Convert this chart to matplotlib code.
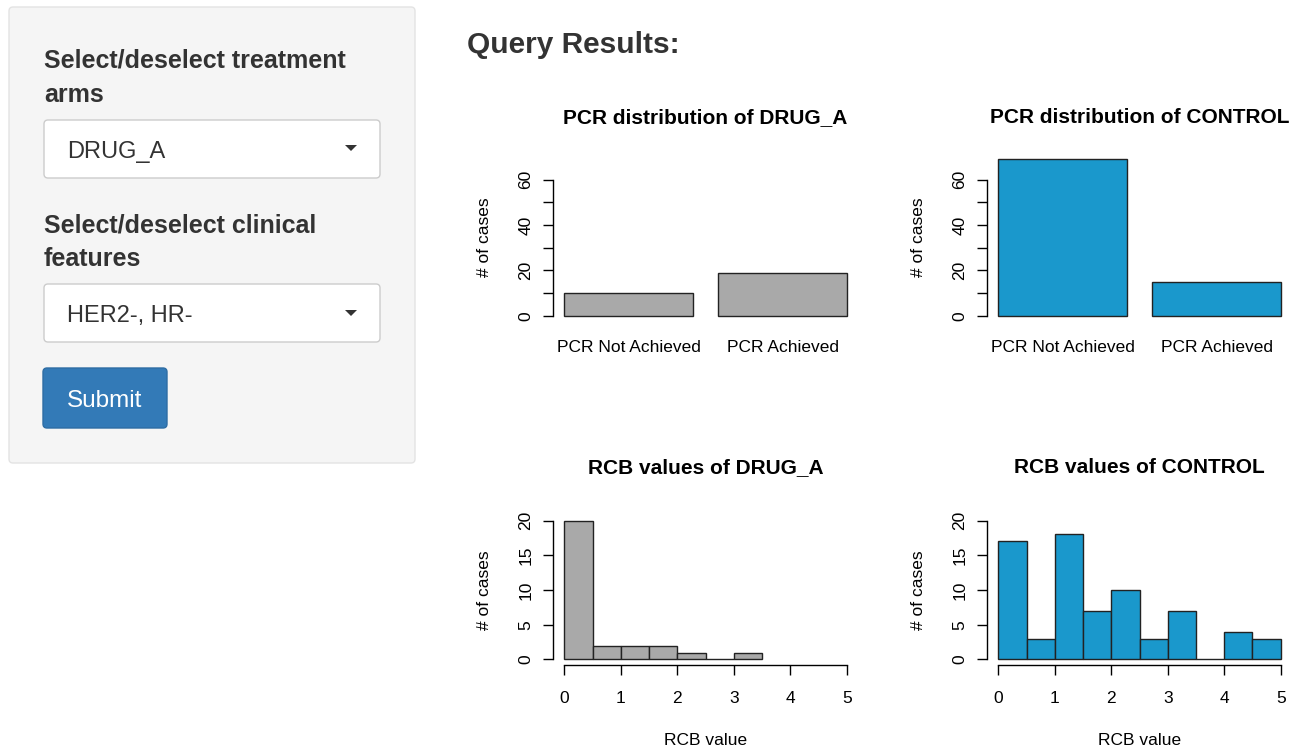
import matplotlib
matplotlib.use("Agg")
import matplotlib.pyplot as plt
from matplotlib.patches import FancyBboxPatch, Polygon

plt.rcParams['font.family'] = ['Liberation Sans', 'DejaVu Sans']

# data
pcr_labels = ["PCR Not Achieved", "PCR Achieved"]
pcr_drug_a = [10, 19]
pcr_control = [69, 15]

rcb_breaks = [0, 0.5, 1.0, 1.5, 2.0, 2.5, 3.0, 3.5, 4.0, 4.5, 5.0]
rcb_drug_a = [20, 2, 2, 2, 1, 0, 1]
rcb_control = [17, 3, 18, 7, 10, 3, 7, 0, 4, 3]

arm_names = ["DRUG_A", "CONTROL"]
arm_colors = ["#a9a9a9", "#1a98cc"]

W, H = 1298, 748
fig = plt.figure(figsize=(W / 100, H / 100), dpi=100)
fig.patch.set_facecolor("white")


def px_axes(x0, y0, x1, y1):
    # pixel box (top-left origin) -> figure axes
    return fig.add_axes([x0 / W, (H - y1) / H, (x1 - x0) / W, (y1 - y0) / H])


# ---- sidebar (shiny well panel) ----
bg = fig.add_axes([0, 0, 1, 1])
bg.set_xlim(0, W)
bg.set_ylim(H, 0)
bg.axis("off")

def rbox(x, y, w, h, fc, ec, r=4):
    bg.add_patch(FancyBboxPatch((x, y), w, h, boxstyle="round,pad=0,rounding_size=%d" % r,
                                fc=fc, ec=ec, lw=1))

rbox(9, 7, 406, 456, "#f5f5f5", "#e3e3e3")
dark = "#333333"
bg.text(44, 67, "Select/deselect treatment", fontsize=18, fontweight="bold", color=dark, va="baseline")
bg.text(44, 102, "arms", fontsize=18, fontweight="bold", color=dark, va="baseline")
rbox(44, 120, 336, 58, "white", "#cccccc")
bg.text(67, 158, "DRUG_A", fontsize=17, color=dark, va="baseline")
bg.text(44, 232, "Select/deselect clinical", fontsize=18, fontweight="bold", color=dark, va="baseline")
bg.text(44, 266, "features", fontsize=18, fontweight="bold", color=dark, va="baseline")
rbox(44, 284, 336, 58, "white", "#cccccc")
bg.text(67, 322, "HER2-, HR-", fontsize=17, color=dark, va="baseline")
for cy in (148, 313):
    bg.add_patch(Polygon([(345, cy - 3), (357, cy - 3), (351, cy + 3)], closed=True, fc=dark, ec="none"))
rbox(43, 368, 124, 60, "#337ab7", "#2e6da4")
bg.text(105, 407, "Submit", fontsize=17.5, color="white", ha="center", va="baseline")

bg.text(467, 53, "Query Results:", fontsize=21.5, fontweight="bold", color=dark, va="baseline")


# ---- R-style base graphics panels ----
fs = 12.5
tick_len = 7.5

def r_style(ax):
    for s in ["top", "right", "bottom"]:
        ax.spines[s].set_visible(False)
    ax.spines["left"].set_linewidth(1)
    ax.tick_params(axis="y", length=tick_len, width=1, labelsize=fs, pad=6.5, labelrotation=90)
    ax.set_facecolor("none")


def pcr_plot(ax, values, color, title):
    pos = [0.7, 1.9]
    ax.bar(pos, values, width=1.0, color=color, edgecolor="#222222", linewidth=1)
    ax.set_xlim(0.112, 2.488)
    ax.set_ylim(-2.76, 71.76)
    r_style(ax)
    ax.spines["left"].set_bounds(0, 60)
    ax.set_yticks([0, 10, 20, 30, 40, 50, 60], ["0", "", "20", "", "40", "", "60"])
    for t in ax.get_yticklabels():
        t.set_va("center")
    ax.set_xticks(pos, pcr_labels)
    ax.tick_params(axis="x", length=0, labelsize=fs, pad=13)
    ax.set_title(title, fontsize=15, fontweight="bold", pad=21.6)
    ax.set_ylabel("# of cases", fontsize=fs)
    ax.yaxis.set_label_coords(-0.2, 0.5)


def rcb_plot(ax, counts, color, title):
    lefts = rcb_breaks[:len(counts)]
    widths = [rcb_breaks[i + 1] - rcb_breaks[i] for i in range(len(counts))]
    ax.bar(lefts, counts, width=widths, align="edge", color=color, edgecolor="#222222", linewidth=1)
    ax.set_xlim(-0.2, 5.2)
    ax.set_ylim(-0.8, 20.8)
    r_style(ax)
    ax.spines["bottom"].set_visible(True)
    ax.spines["bottom"].set_linewidth(1)
    ax.spines["bottom"].set_bounds(0, 5)
    ax.spines["left"].set_bounds(0, 20)
    ax.set_yticks([0, 5, 10, 15, 20])
    for t in ax.get_yticklabels():
        t.set_va("center")
    ax.set_xticks([0, 1, 2, 3, 4, 5])
    ax.tick_params(axis="x", length=tick_len, width=1, labelsize=fs, pad=11.5)
    ax.set_title(title, fontsize=15, fontweight="bold", pad=30.2)
    ax.set_ylabel("# of cases", fontsize=fs)
    ax.yaxis.set_label_coords(-0.2, 0.5)
    ax.set_xlabel("RCB value", fontsize=fs)
    ax.xaxis.set_label_coords(0.5, -0.455)


cols = [(553, 858), (987, 1292)]
for i, (x0, x1) in enumerate(cols):
    ax = px_axes(x0, 153, x1, 322)
    pcr_plot(ax, [pcr_drug_a, pcr_control][i], arm_colors[i], "PCR distribution of " + arm_names[i])
    ax = px_axes(x0, 515, x1, 665)
    rcb_plot(ax, [rcb_drug_a, rcb_control][i], arm_colors[i], "RCB values of " + arm_names[i])

fig.savefig("out.png", dpi=100)
